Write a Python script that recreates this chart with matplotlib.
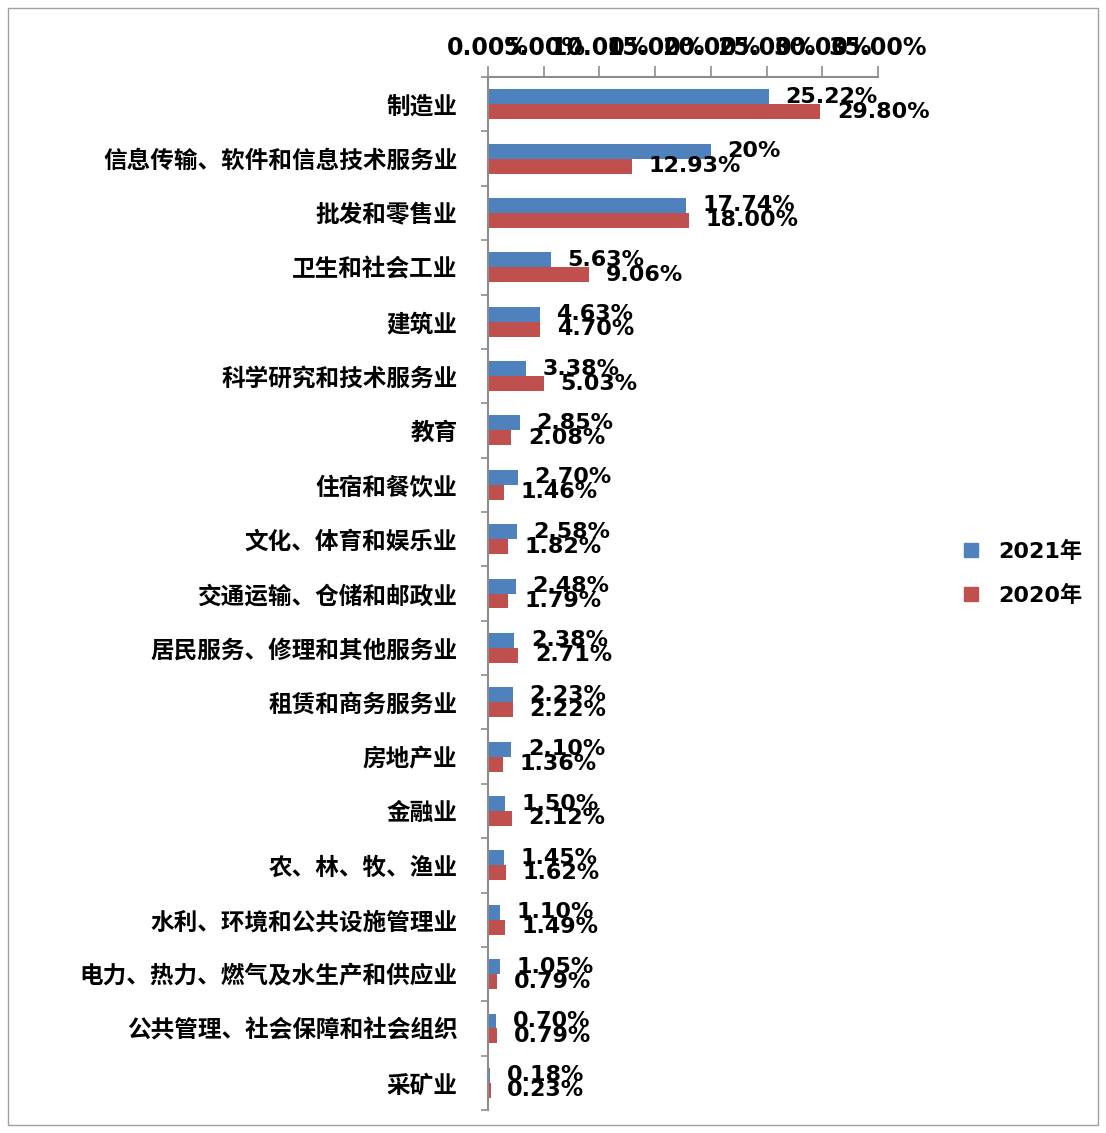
import numpy as np
import matplotlib.pyplot as plt
from matplotlib.lines import Line2D
from matplotlib.patches import Rectangle

plt.rcParams['font.family'] = ['DejaVu Sans', 'Noto Sans CJK SC']

industries = ['制造业', '信息传输、软件和信息技术服务业', '批发和零售业', '卫生和社会工业',
              '建筑业', '科学研究和技术服务业', '教育', '住宿和餐饮业', '文化、体育和娱乐业',
              '交通运输、仓储和邮政业', '居民服务、修理和其他服务业', '租赁和商务服务业',
              '房地产业', '金融业', '农、林、牧、渔业', '水利、环境和公共设施管理业',
              '电力、热力、燃气及水生产和供应业', '公共管理、社会保障和社会组织', '采矿业']
share_2021 = [25.22, 20.00, 17.74, 5.63, 4.63, 3.38, 2.85, 2.70, 2.58, 2.48,
              2.38, 2.23, 2.10, 1.50, 1.45, 1.10, 1.05, 0.70, 0.18]
share_2020 = [29.80, 12.93, 18.00, 9.06, 4.70, 5.03, 2.08, 1.46, 1.82, 1.79,
              2.71, 2.22, 1.36, 2.12, 1.62, 1.49, 0.79, 0.79, 0.23]
x_ticks = [0, 5, 10, 15, 20, 25, 30, 35]
series = ['2021年', '2020年']

BLUE = '#4F81BD'
RED = '#C0504D'
GRAY = '#8C8C8C'

labels_2021 = ['%.2f%%' % v for v in share_2021]
labels_2021[1] = '%d%%' % share_2021[1]   # this one was entered without decimals
labels_2020 = ['%.2f%%' % v for v in share_2020]

fig = plt.figure(figsize=(11.06, 11.33), dpi=100)
ax = fig.add_axes([0.4412, 0.0203, 0.3527, 0.9117])

y = np.arange(len(industries))
h = 0.275
ax.barh(y - h / 2, share_2021, height=h, color=BLUE, label=series[0])
ax.barh(y + h / 2, share_2020, height=h, color=RED, label=series[1])

# value labels just past the end of each bar
for yi, v, s in zip(y - h / 2, share_2021, labels_2021):
    ax.annotate(s, (v, yi), xytext=(12, 0), textcoords='offset points',
                ha='left', va='center', fontsize=16, fontweight='bold')
for yi, v, s in zip(y + h / 2, share_2020, labels_2020):
    ax.annotate(s, (v, yi), xytext=(12, 0), textcoords='offset points',
                ha='left', va='center', fontsize=16, fontweight='bold')

ax.set_xlim(0, 35)
ax.set_ylim(len(industries) - 0.5, -0.5)

ax.xaxis.tick_top()
ax.set_xticks(x_ticks)
ax.set_xticklabels(['%.2f%%' % t for t in x_ticks], fontsize=17, fontweight='bold')
ax.tick_params(axis='x', direction='out', length=8, width=1.2, color=GRAY, pad=4)

ax.set_yticks(y)
ax.set_yticklabels(industries, fontsize=17, fontweight='bold',
                   family=['Noto Sans CJK SC', 'DejaVu Sans'])
ax.tick_params(axis='y', which='major', length=0, pad=22)
ax.set_yticks(np.arange(len(industries) + 1) - 0.5, minor=True)
ax.tick_params(axis='y', which='minor', direction='out', length=5, width=1.2, color=GRAY)

for side in ['right', 'bottom']:
    ax.spines[side].set_visible(False)
for side in ['left', 'top']:
    ax.spines[side].set_color(GRAY)
    ax.spines[side].set_linewidth(1.5)

handles = [Line2D([], [], marker='s', linestyle='none', markersize=10, color=c)
           for c in (BLUE, RED)]
fig.legend(handles, series, loc='center left', bbox_to_anchor=(0.84, 0.494),
           frameon=False, handletextpad=0.2, labelspacing=1.0,
           prop={'size': 16, 'weight': 'bold', 'family': ['DejaVu Sans', 'Noto Sans CJK SC']})

fig.patches.append(Rectangle((0.007, 0.007), 0.986, 0.986, transform=fig.transFigure,
                             fill=False, edgecolor='#A0A0A0', linewidth=1))

fig.savefig('out.png', dpi=100)
